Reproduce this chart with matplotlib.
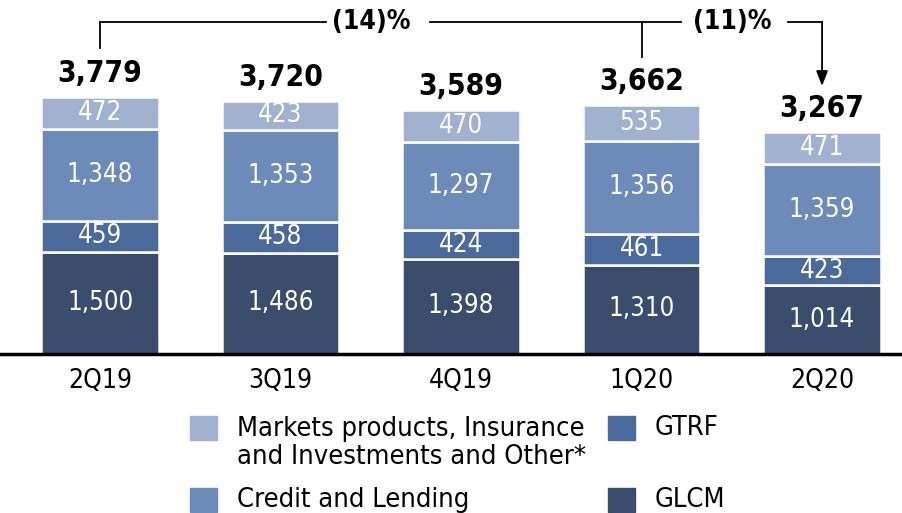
import matplotlib.pyplot as plt
from matplotlib.patches import Rectangle
import numpy as np

quarters = ["2Q19", "3Q19", "4Q19", "1Q20", "2Q20"]
glcm = [1500, 1486, 1398, 1310, 1014]
gtrf = [459, 458, 424, 461, 423]
credit = [1348, 1353, 1297, 1356, 1359]
markets = [472, 423, 470, 535, 471]
totals = [3779, 3720, 3589, 3662, 3267]

c_markets = "#a0b2cf"
c_credit = "#6c8bb8"
c_gtrf = "#4a6a9b"
c_glcm = "#3a4d6d"

plt.rcParams['font.family'] = ["DejaVu Sans"]
plt.rcParams['font.stretch'] = "condensed"

W, H = 902, 513
fig = plt.figure(figsize=(W / 100, H / 100), dpi=100)
base_px = 354
ax = fig.add_axes([0, (H - base_px) / H, 1, base_px / H])

px_per_unit = 0.068
ax.set_ylim(0, base_px / px_per_unit)
ax.set_xlim(-0.554, 4.443)

x = np.arange(len(quarters))
width = 0.65
segments = [(glcm, c_glcm), (gtrf, c_gtrf), (credit, c_credit), (markets, c_markets)]
bottom = np.zeros(len(quarters))
for vals, col in segments:
    vals = np.array(vals)
    ax.bar(x, vals, width, bottom=bottom, color=col, edgecolor="white", linewidth=1.8)
    for xi, b, v in zip(x, bottom, vals):
        ax.text(xi, b + v / 2, f"{v:,}", ha="center", va="center",
                color="white", fontsize=18.5)
    bottom += vals

for xi, t in zip(x, totals):
    ax.text(xi, t + 130, f"{t:,}", ha="center", va="bottom",
            fontsize=21.5, fontweight="bold")

# baseline
ax.axhline(0, color="black", linewidth=2.5, clip_on=False)

# bracket annotations
def ypx(p):
    return (base_px - p) / px_per_unit

yb = ypx(22)
lw = 1.3
ax.plot([0, 0], [ypx(48), yb], color="black", lw=lw)
ax.plot([0, 1.25], [yb, yb], color="black", lw=lw)
ax.text(1.5, yb, "(14)%", ha="center", va="center", fontsize=19, fontweight="bold")
ax.plot([1.83, 3.22], [yb, yb], color="black", lw=lw)
ax.plot([3, 3], [ypx(57), yb], color="black", lw=lw)
ax.text(3.5, yb, "(11)%", ha="center", va="center", fontsize=19, fontweight="bold")
ax.plot([3.81, 4], [yb, yb], color="black", lw=lw)
ax.annotate("", xy=(4, ypx(86)), xytext=(4, yb),
            arrowprops=dict(arrowstyle="-|>,head_width=0.35,head_length=0.9",
                            color="black", lw=lw, shrinkA=0, shrinkB=0))

ax.set_xticks(x)
ax.set_xticklabels(quarters, fontsize=19)
ax.tick_params(axis="x", length=0, pad=10)
ax.set_yticks([])
for s in ax.spines.values():
    s.set_visible(False)

# legend
def fx(p):
    return p / W

def fy(p):
    return 1 - p / H

legend_items = [
    (190, 416, c_markets, "Markets products, Insurance\nand Investments and Other*", 443),
    (190, 488, c_credit, "Credit and Lending", 500),
    (608, 416, c_gtrf, "GTRF", 428),
    (608, 488, c_glcm, "GLCM", 500),
]
for lx, ly, col, label, ty in legend_items:
    fig.add_artist(Rectangle((fx(lx), fy(ly + 24)), fx(27), 24 / H,
                             transform=fig.transFigure, color=col))
    fig.text(fx(lx + 47), fy(ty), label, ha="left", va="center",
             fontsize=19.5, linespacing=1.1)

fig.savefig("out.png", dpi=100)
